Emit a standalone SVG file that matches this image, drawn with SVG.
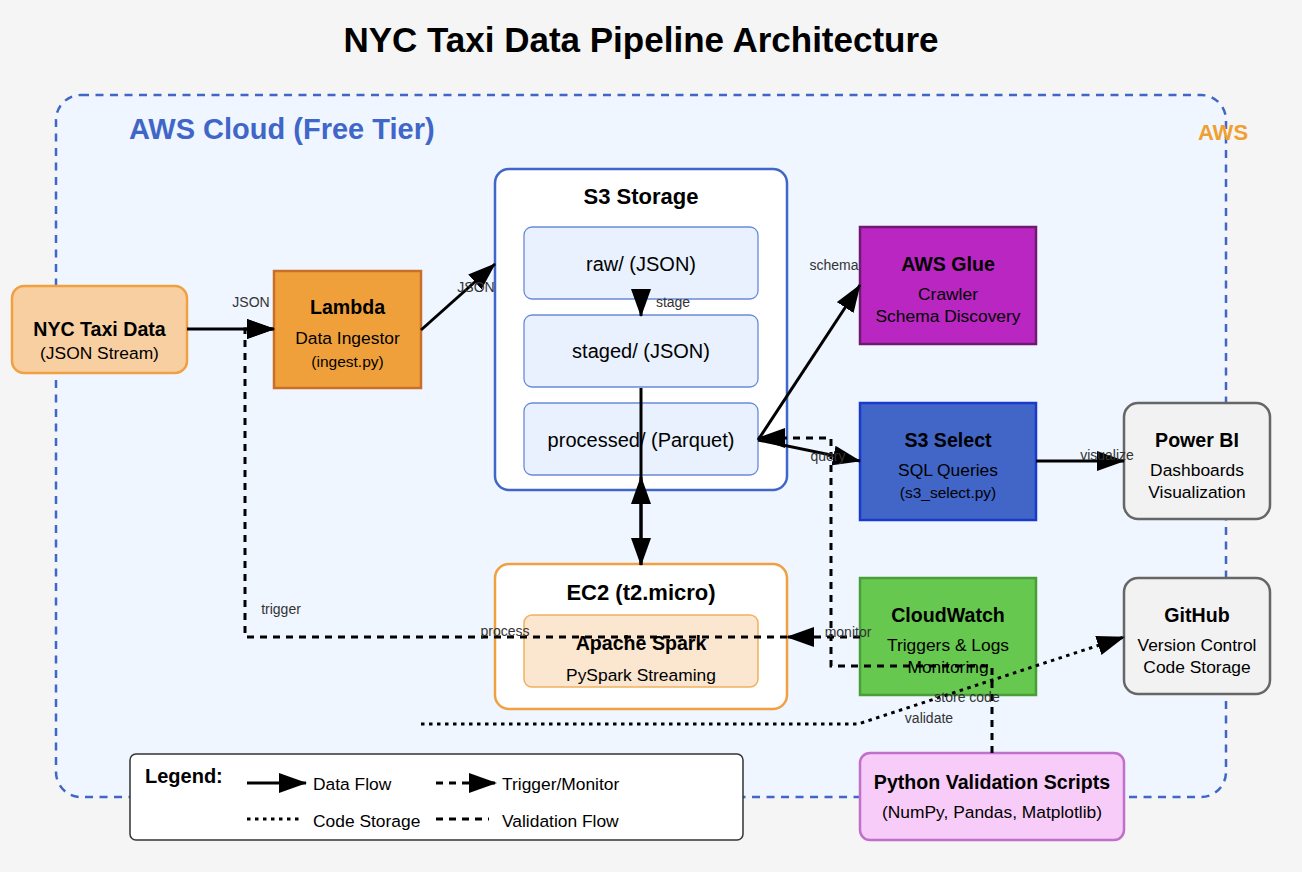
<svg xmlns="http://www.w3.org/2000/svg" width="1302" height="872" viewBox="0 0 1302 872">
<defs>
<marker id="ah" markerUnits="userSpaceOnUse" markerWidth="28" markerHeight="20" refX="27" refY="10" orient="auto"><path d="M0,0 L28,10 L0,20 z" fill="#000"/></marker>
</defs>
<style>
text{font-family:"Liberation Sans",Arial,Helvetica,sans-serif;}
.t{font-weight:bold;font-size:19.6px;text-anchor:middle;fill:#000}
.t2{font-weight:bold;font-size:22px;text-anchor:middle;fill:#000}
.s{font-size:17.4px;text-anchor:middle;fill:#000}
.m{font-size:20px;text-anchor:middle;fill:#000}
.xs{font-size:15.5px;text-anchor:middle;fill:#000}
.lbl{font-size:14px;text-anchor:middle;fill:#333}
.lg{font-size:17.4px;fill:#000}
.flow{fill:none;stroke:#000;stroke-width:3}
.dash{fill:none;stroke:#000;stroke-width:3;stroke-dasharray:7 6}
.dot{fill:none;stroke:#000;stroke-width:3;stroke-dasharray:3.5 4.5}
.sub{fill:#e8f1fd;stroke:#6a8ad8;stroke-width:1.3}
</style>
<rect x="0" y="0" width="1302" height="872" fill="#f5f5f5"/>
<text x="641" y="52" text-anchor="middle" font-weight="bold" font-size="35" fill="#000">NYC Taxi Data Pipeline Architecture</text>

<g id="aws-cloud">
<rect x="56" y="95" width="1170" height="702" rx="25" fill="#eff6ff" stroke="#4066c8" stroke-width="2.5" stroke-dasharray="8 6.5"/>
<text x="129" y="139" font-weight="bold" font-size="29" fill="#4066c8">AWS Cloud (Free Tier)</text>
<text x="1223" y="140" text-anchor="middle" font-weight="bold" font-size="22" fill="#f0a030">AWS</text>
</g>

<g id="nyc-taxi-data">
<rect x="12" y="286" width="175" height="87" rx="12" fill="#f8cfa0" stroke="#f0a040" stroke-width="2.5"/>
<text class="t" x="99.5" y="336">NYC Taxi Data</text>
<text class="s" x="99.5" y="359">(JSON Stream)</text>
</g>

<g id="lambda">
<rect x="274" y="271" width="147" height="117" fill="#f0a03a" stroke="#c8702a" stroke-width="2.5"/>
<text class="t" x="347.5" y="314">Lambda</text>
<text class="s" x="347.5" y="344">Data Ingestor</text>
<text class="xs" x="347.5" y="367">(ingest.py)</text>
</g>

<g id="s3-storage">
<rect x="495" y="169" width="292" height="321" rx="14" fill="#ffffff" stroke="#4066c8" stroke-width="2.5"/>
<text class="t2" x="641" y="204">S3 Storage</text>
<rect class="sub" x="524" y="227" width="234" height="72" rx="8"/>
<text class="m" x="641" y="271">raw/ (JSON)</text>
<rect class="sub" x="524" y="315" width="234" height="72" rx="8"/>
<text class="m" x="641" y="358">staged/ (JSON)</text>
<rect class="sub" x="524" y="403" width="234" height="72" rx="8"/>
<text class="m" x="641" y="447">processed/ (Parquet)</text>
</g>

<g id="aws-glue">
<rect x="860" y="227" width="176" height="117" fill="#ba26c1" stroke="#6e1a70" stroke-width="2.5"/>
<text class="t" x="948" y="271">AWS Glue</text>
<text class="s" x="948" y="300">Crawler</text>
<text class="s" x="948" y="322">Schema Discovery</text>
</g>

<g id="s3-select">
<rect x="860" y="403" width="176" height="117" fill="#4166c8" stroke="#1a3acc" stroke-width="2.5"/>
<text class="t" x="948" y="447">S3 Select</text>
<text class="s" x="948" y="476">SQL Queries</text>
<text class="xs" x="948" y="498">(s3_select.py)</text>
</g>

<g id="power-bi">
<rect x="1124" y="403" width="146" height="116" rx="14" fill="#f2f2f2" stroke="#666666" stroke-width="2.5"/>
<text class="t" x="1197" y="447">Power BI</text>
<text class="s" x="1197" y="476">Dashboards</text>
<text class="s" x="1197" y="498">Visualization</text>
</g>

<g id="ec2">
<rect x="495" y="564" width="292" height="145" rx="14" fill="#ffffff" stroke="#f0a040" stroke-width="2.5"/>
<text class="t2" x="641" y="600">EC2 (t2.micro)</text>
<rect x="524" y="615" width="234" height="72" rx="8" fill="#fbe6cf" stroke="#f3b060" stroke-width="1.5"/>
<text class="t" x="641" y="650">Apache Spark</text>
<text class="s" x="641" y="681">PySpark Streaming</text>
</g>

<g id="cloudwatch">
<rect x="860" y="578" width="176" height="117" fill="#66c84f" stroke="#4a9e3a" stroke-width="2.5"/>
<text class="t" x="948" y="622">CloudWatch</text>
<text class="s" x="948" y="651">Triggers &amp; Logs</text>
<text class="s" x="948" y="673">Monitoring</text>
</g>

<g id="github">
<rect x="1124" y="578" width="146" height="116" rx="14" fill="#f2f2f2" stroke="#666666" stroke-width="2.5"/>
<text class="t" x="1197" y="622">GitHub</text>
<text class="s" x="1197" y="651">Version Control</text>
<text class="s" x="1197" y="673">Code Storage</text>
</g>

<g id="python-validation">
<rect x="860" y="753" width="264" height="87" rx="10" fill="#f8ccf8" stroke="#c070c8" stroke-width="2.5"/>
<text class="t" x="992" y="789">Python Validation Scripts</text>
<text class="s" x="992" y="818">(NumPy, Pandas, Matplotlib)</text>
</g>

<g id="connectors">
<line class="flow" x1="187" y1="329" x2="274" y2="329" marker-end="url(#ah)"/>
<line class="flow" x1="421" y1="330" x2="495" y2="264" marker-end="url(#ah)"/>
<line class="flow" x1="641" y1="300" x2="641" y2="316" marker-end="url(#ah)"/>
<line class="flow" x1="641" y1="388" x2="641" y2="565" marker-end="url(#ah)"/>
<line class="flow" x1="641" y1="565" x2="641" y2="477" marker-end="url(#ah)"/>
<line class="flow" x1="758" y1="440" x2="860" y2="285" marker-end="url(#ah)"/>
<line class="flow" x1="758" y1="440" x2="860" y2="461" marker-end="url(#ah)"/>
<line class="flow" x1="1036" y1="461" x2="1124" y2="461" marker-end="url(#ah)"/>
<path class="dash" d="M860,637 H787" marker-end="url(#ah)"/>
<path class="dash" d="M787,637 H245 V329 H274" marker-end="url(#ah)"/>
<path class="dash" d="M992,753 V666 H831 V438 H758" marker-end="url(#ah)"/>
<path class="dot" d="M421,724 H858 L1124,637" marker-end="url(#ah)"/>
</g>

<g id="connector-labels">
<text class="lbl" x="251" y="307">JSON</text>
<text class="lbl" x="476" y="292">JSON</text>
<text class="lbl" x="673" y="307">stage</text>
<text class="lbl" x="834" y="270">schema</text>
<text class="lbl" x="828" y="461">query</text>
<text class="lbl" x="1107" y="460">visualize</text>
<text class="lbl" x="848" y="637">monitor</text>
<text class="lbl" x="505" y="636">process</text>
<text class="lbl" x="281" y="614">trigger</text>
<text class="lbl" x="967" y="702">store code</text>
<text class="lbl" x="929" y="723">validate</text>
</g>

<g id="legend">
<rect x="130" y="754" width="613" height="86" rx="6" fill="#ffffff" stroke="#333333" stroke-width="1.5"/>
<text x="145" y="783" font-weight="bold" font-size="20" fill="#000">Legend:</text>
<line class="flow" x1="247" y1="783" x2="306" y2="783" marker-end="url(#ah)"/>
<text class="lg" x="313" y="790">Data Flow</text>
<line class="dash" x1="436" y1="783" x2="496" y2="783" marker-end="url(#ah)"/>
<text class="lg" x="502" y="790">Trigger/Monitor</text>
<line class="dot" x1="247" y1="819" x2="303" y2="819"/>
<text class="lg" x="313" y="827">Code Storage</text>
<line class="dash" x1="436" y1="819" x2="489" y2="819"/>
<text class="lg" x="502" y="827">Validation Flow</text>
</g>
</svg>
